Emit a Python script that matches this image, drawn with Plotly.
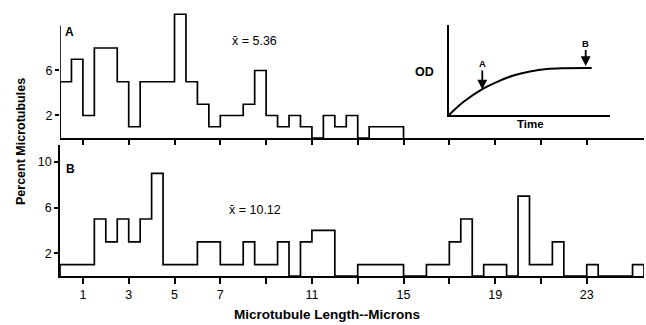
import numpy as np
import plotly.graph_objects as go

# Percent of microtubules per 0.5-micron length class
BIN_WIDTH = 0.5
pct_a = [5, 7, 2, 8, 8, 5, 1, 5, 5, 5,
         11, 5, 3, 1, 2, 2, 3, 6, 2, 1,
         2, 1, 0, 2, 1, 2, 0, 1, 1, 1]
pct_b = [1, 1, 1, 5, 3, 5, 3, 5, 9, 1,
         1, 1, 3, 3, 1, 1, 3, 1, 1, 3,
         0, 3, 4, 4, 0, 0, 1, 1, 1, 1,
         0, 0, 1, 1, 3, 5, 0, 1, 1, 0,
         7, 1, 1, 3, 0, 0, 1, 0, 0, 0, 1]
mean_a = "5.36"
mean_b = "10.12"

x_ticks = [1, 3, 5, 7, 9, 11, 13, 15, 17, 19, 21, 23]
x_ticktext = ["1", "3", "5", "7", "", "11", "", "15", "", "19", "", "23"]

# Inset: optical density during assembly (schematic)
od_time = [0, 0.89, 2.07, 2.96, 4.0, 5.03, 6.07, 7.08, 8.86]
od_value = [0, 1.3, 2.6, 3.3, 3.95, 4.35, 4.6, 4.68, 4.7]
sample_a_time = 2.07
sample_b_time = 8.49

TICK_FONT = dict(family="Liberation Sans Narrow, Arial Narrow, Liberation Sans, Arial",
                 size=12.5, color="black")
BOLD = "Liberation Sans, Arial, Helvetica, sans-serif"


def step_outline(values):
    vals = np.asarray(values, dtype=float)
    edges = np.arange(len(vals) + 1) * BIN_WIDTH
    xs = np.concatenate([[0.0], edges, [edges[-1]]])
    ys = np.concatenate([[0.0], vals, [vals[-1], 0.0]])
    return xs, ys


def px_x(px):
    return (px - 60) / 584


def px_y(py):
    return (325 - py) / 325


fig = go.Figure()

xa, ya = step_outline(pct_a)
xb, yb = step_outline(pct_b)
fig.add_trace(go.Scatter(x=xa, y=ya, mode="lines", line_shape="hv",
                         line=dict(color="black", width=1.7),
                         xaxis="x", yaxis="y", showlegend=False))
fig.add_trace(go.Scatter(x=xb, y=yb, mode="lines", line_shape="hv",
                         line=dict(color="black", width=1.7),
                         xaxis="x2", yaxis="y2", showlegend=False))
fig.add_trace(go.Scatter(x=od_time, y=od_value, mode="lines", line_shape="spline",
                         line=dict(color="black", width=2),
                         xaxis="x3", yaxis="y3", showlegend=False))

axis_common = dict(showgrid=False, zeroline=False, linecolor="black", linewidth=1.6,
                   ticks="outside", tickcolor="black", tickwidth=1.5, tickfont=TICK_FONT)
axis_plain = {k: v for k, v in axis_common.items() if k != "tickfont"}

fig.update_layout(
    width=646, height=325,
    margin=dict(l=60, r=2, t=0, b=0),
    paper_bgcolor="white", plot_bgcolor="white",
    xaxis=dict(domain=[0, 1], range=[0, 25.5], anchor="y", showline=True,
               tickvals=x_ticks, ticklen=5, showticklabels=False, **axis_plain),
    yaxis=dict(domain=[0.5754, 0.9846], range=[0, 11.82], anchor="x", showline=False,
               tickvals=[2, 6], ticklen=4, **axis_common),
    xaxis2=dict(domain=[0, 1], range=[0, 25.5], anchor="y2", showline=True,
                tickvals=x_ticks, ticktext=x_ticktext, ticklen=6, **axis_common),
    yaxis2=dict(domain=[0.1508, 0.5538], range=[0, 11.49], anchor="x2", showline=True,
                tickvals=[2, 6, 10], ticklen=4, **axis_common),
    xaxis3=dict(domain=[0.666, 0.9418], range=[0, 10], anchor="y3", showline=True,
                showgrid=False, zeroline=False, showticklabels=False, ticks="",
                linecolor="black", linewidth=1.6),
    yaxis3=dict(domain=[0.646, 0.923], range=[0, 9], anchor="x3", showline=True,
                showgrid=False, zeroline=False, showticklabels=False, ticks="",
                linecolor="black", linewidth=1.6),
    showlegend=False,
)

# Panel A vertical axis stops at 10 %
fig.add_shape(type="line", xref="x", yref="y", x0=0, x1=0, y0=0, y1=10,
              line=dict(color="black", width=1.6))

ann = []
ann.append(dict(xref="x", yref="y", x=0.4, y=9.4, text="<b>A</b>", showarrow=False,
                font=dict(family=BOLD, size=12, color="black")))
ann.append(dict(xref="x2", yref="y2", x=0.45, y=9.4, text="<b>B</b>", showarrow=False,
                font=dict(family=BOLD, size=12, color="black")))
ann.append(dict(xref="x", yref="y", x=8.5, y=8.6, text="x\u0304 = " + mean_a, showarrow=False,
                font=TICK_FONT))
ann.append(dict(xref="x2", yref="y2", x=8.5, y=5.8, text="x\u0304 = " + mean_b, showarrow=False,
                font=TICK_FONT))
# inset labels and sampling arrows
ann.append(dict(xref="paper", yref="paper", x=px_x(424), y=px_y(72), text="<b>OD</b>",
                showarrow=False, xanchor="center", yanchor="middle",
                font=dict(family=BOLD, size=12.5, color="black")))
ann.append(dict(xref="paper", yref="paper", x=px_x(530), y=px_y(124), text="<b>Time</b>",
                showarrow=False, xanchor="center", yanchor="middle",
                font=dict(family=BOLD, size=11.5, color="black")))
ann.append(dict(xref="x3", yref="y3", x=sample_a_time, y=2.55, text="<b>A</b>",
                showarrow=True, ax=0, ay=-26, arrowhead=2, arrowsize=1.1, arrowwidth=1.8,
                arrowcolor="black", font=dict(family=BOLD, size=9.5, color="black")))
ann.append(dict(xref="x3", yref="y3", x=sample_b_time, y=4.9, text="<b>B</b>",
                showarrow=True, ax=0, ay=-23, arrowhead=2, arrowsize=1.1, arrowwidth=1.8,
                arrowcolor="black", font=dict(family=BOLD, size=9.5, color="black")))
# axis titles
ann.append(dict(xref="paper", yref="paper", x=px_x(327), y=px_y(314),
                xanchor="center", yanchor="middle",
                text="<b>Microtubule Length--Microns</b>", showarrow=False,
                font=dict(family=BOLD, size=13.5, color="black")))
ann.append(dict(xref="paper", yref="paper", x=px_x(21), y=px_y(142),
                xanchor="center", yanchor="middle",
                text="<b>Percent Microtubules</b>", showarrow=False, textangle=-90,
                font=dict(family=BOLD, size=12.5, color="black")))
fig.update_layout(annotations=ann)

fig.write_html("out.html")
